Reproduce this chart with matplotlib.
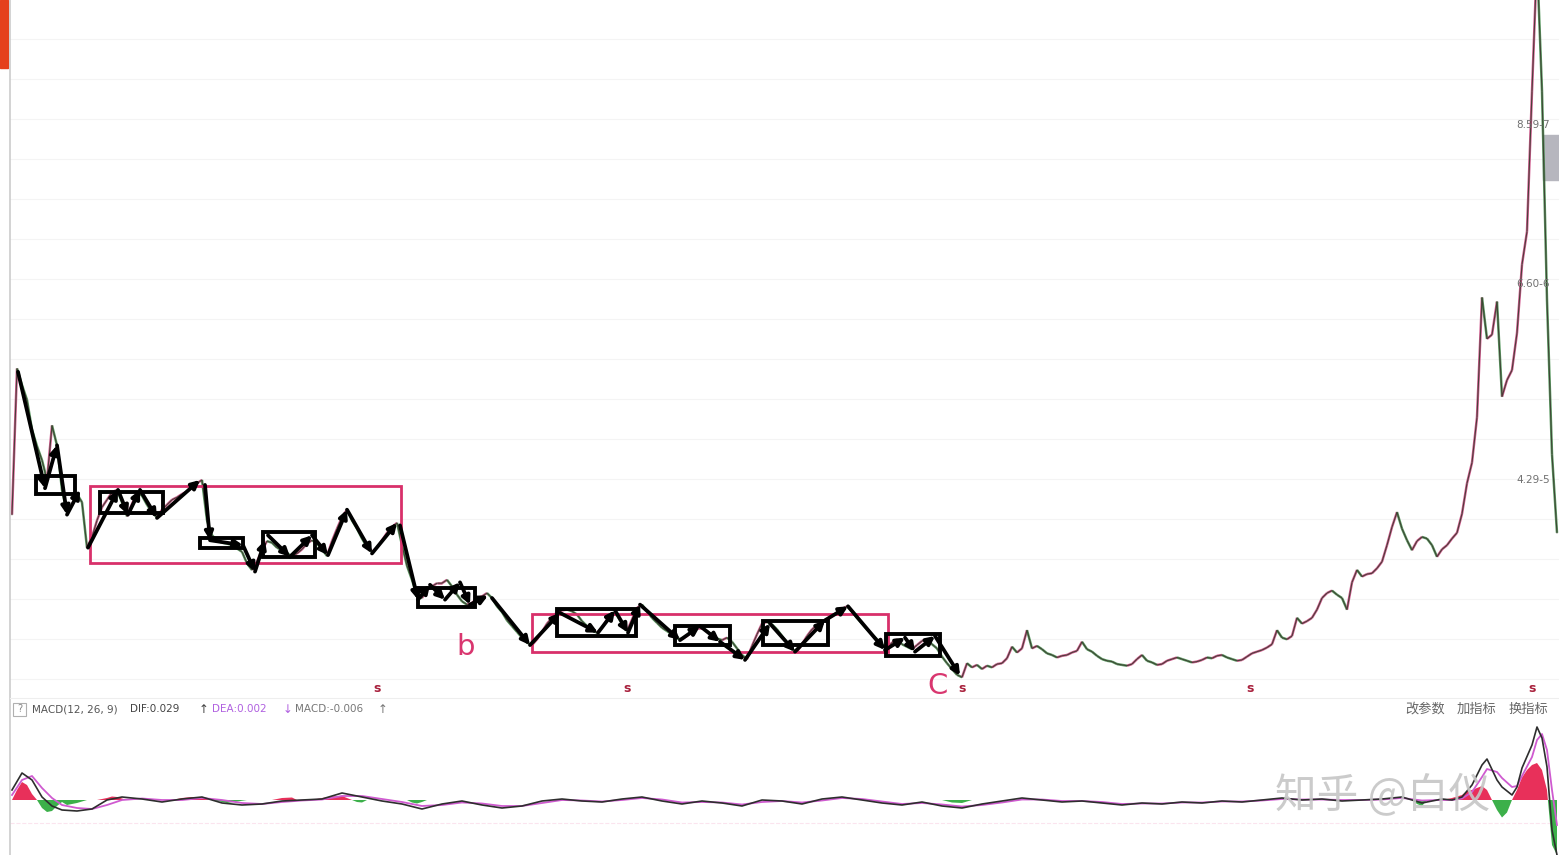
import numpy as np
import matplotlib
matplotlib.use('Agg')
import matplotlib.pyplot as plt
from matplotlib.patches import Rectangle
from matplotlib.collections import LineCollection

plt.rcParams['font.family'] = ['DejaVu Sans', 'Noto Sans CJK SC']

# daily close, one value per trading day
close = [3.87, 5.64, 5.44, 5.26, 4.90, 4.70, 4.53, 4.29, 4.95, 4.71,
         4.17, 3.90, 3.99, 4.12, 4.02, 3.47, 3.60, 3.80, 3.96, 4.05,
         4.14, 4.17, 4.02, 3.85, 4.00, 4.14, 4.10, 3.99, 3.90, 3.84,
         3.93, 3.99, 4.05, 4.08, 4.12, 4.15, 4.20, 4.25, 4.29, 3.80,
         3.62, 3.56, 3.53, 3.52, 3.50, 3.46, 3.42, 3.28, 3.20, 3.30,
         3.44, 3.55, 3.53, 3.47, 3.44, 3.40, 3.37, 3.40, 3.45, 3.52,
         3.56, 3.52, 3.45, 3.37, 3.55, 3.70, 3.84, 3.93, 3.80, 3.70,
         3.58, 3.48, 3.42, 3.47, 3.56, 3.65, 3.72, 3.77, 3.50, 3.25,
         3.08, 2.88, 2.86, 2.96, 3.00, 3.04, 3.04, 3.08, 3.00, 2.90,
         2.82, 2.78, 2.80, 2.86, 2.88, 2.92, 2.86, 2.76, 2.69, 2.59,
         2.52, 2.45, 2.38, 2.32, 2.29, 2.36, 2.45, 2.55, 2.62, 2.69,
         2.71, 2.72, 2.70, 2.66, 2.58, 2.52, 2.47, 2.44, 2.50, 2.60,
         2.68, 2.65, 2.55, 2.46, 2.60, 2.74, 2.78, 2.70, 2.62, 2.56,
         2.50, 2.46, 2.42, 2.37, 2.36, 2.40, 2.45, 2.50, 2.50, 2.46,
         2.41, 2.37, 2.35, 2.38, 2.33, 2.25, 2.17, 2.12, 2.28, 2.42,
         2.55, 2.57, 2.54, 2.48, 2.40, 2.32, 2.24, 2.21, 2.30, 2.40,
         2.48, 2.53, 2.57, 2.60, 2.64, 2.68, 2.72, 2.76, 2.70, 2.62,
         2.55, 2.48, 2.42, 2.36, 2.30, 2.25, 2.32, 2.36, 2.30, 2.27,
         2.24, 2.29, 2.34, 2.36, 2.30, 2.25, 2.15, 2.07, 2.00, 1.93,
         1.90, 2.07, 2.02, 2.05, 2.00, 2.04, 2.02, 2.06, 2.07, 2.13,
         2.27, 2.20, 2.25, 2.47, 2.25, 2.28, 2.24, 2.19, 2.17, 2.14,
         2.16, 2.17, 2.20, 2.22, 2.33, 2.24, 2.21, 2.16, 2.12, 2.10,
         2.09, 2.06, 2.05, 2.04, 2.06, 2.12, 2.17, 2.10, 2.08, 2.05,
         2.06, 2.10, 2.12, 2.14, 2.12, 2.10, 2.08, 2.09, 2.11, 2.14,
         2.13, 2.16, 2.17, 2.14, 2.12, 2.10, 2.11, 2.15, 2.19, 2.21,
         2.23, 2.26, 2.30, 2.47, 2.38, 2.36, 2.40, 2.62, 2.55, 2.58,
         2.62, 2.72, 2.86, 2.92, 2.95, 2.90, 2.86, 2.72, 3.05, 3.20,
         3.12, 3.15, 3.16, 3.22, 3.30, 3.50, 3.72, 3.90, 3.70, 3.56,
         3.44, 3.55, 3.60, 3.58, 3.50, 3.36, 3.45, 3.50, 3.58, 3.65,
         3.88, 4.25, 4.50, 5.05, 6.50, 6.00, 6.05, 6.45, 5.30, 5.50,
         5.62, 6.07, 6.90, 7.30, 9.00, 10.60, 9.00, 6.47, 4.60, 3.65]

# MACD lines
macd_days = [0, 2, 4, 6, 8, 10, 13, 16, 19, 22, 26, 30, 34, 38, 42, 46, 50, 54, 58, 62,
             66, 70, 74, 78, 82, 86, 90, 94, 98, 102, 106, 110, 114, 118, 122, 126, 130, 134, 138, 142,
             146, 150, 154, 158, 162, 166, 170, 174, 178, 182, 186, 190, 194, 198, 202, 206, 210, 214, 218, 222,
             226, 230, 234, 238, 242, 246, 250, 254, 258, 262, 266, 270, 274, 278, 282, 286, 288, 290, 292, 294,
             295, 297, 298, 300, 301, 302, 304, 305, 306, 307, 308, 309]
dif = [0.020, 0.054, 0.040, 0.006, -0.012, -0.020, -0.022, -0.018, 0.000, 0.006,
       0.002, -0.004, 0.002, 0.006, -0.006, -0.010, -0.008, -0.002, 0.000, 0.002,
       0.014, 0.006, -0.002, -0.008, -0.018, -0.008, -0.002, -0.010, -0.016, -0.012,
       -0.002, 0.002, -0.002, -0.004, 0.002, 0.006, -0.002, -0.008, -0.002, -0.006,
       -0.012, 0.000, -0.002, -0.008, 0.002, 0.006, 0.000, -0.006, -0.010, -0.004,
       -0.012, -0.016, -0.008, -0.002, 0.004, 0.000, -0.004, -0.002, -0.006, -0.010,
       -0.006, -0.008, -0.004, -0.006, -0.002, -0.004, 0.000, 0.004, 0.000, 0.002,
       -0.002, 0.000, 0.002, 0.006, -0.006, 0.002, 0.000, 0.006, 0.030, 0.070,
       0.082, 0.040, 0.026, 0.010, 0.026, 0.064, 0.110, 0.146, 0.124, 0.066,
       -0.060, -0.110]
dea = [0.010, 0.040, 0.048, 0.024, 0.004, -0.010, -0.016, -0.018, -0.010, 0.000,
       0.003, 0.000, 0.000, 0.004, 0.000, -0.006, -0.008, -0.004, -0.001, 0.001,
       0.008, 0.008, 0.002, -0.004, -0.012, -0.010, -0.005, -0.007, -0.012, -0.012,
       -0.006, 0.000, -0.001, -0.003, 0.000, 0.004, 0.001, -0.005, -0.004, -0.005,
       -0.009, -0.004, -0.002, -0.005, -0.001, 0.004, 0.002, -0.003, -0.008, -0.006,
       -0.009, -0.013, -0.010, -0.005, 0.001, 0.001, -0.002, -0.002, -0.004, -0.008,
       -0.007, -0.007, -0.005, -0.005, -0.003, -0.003, -0.001, 0.002, 0.001, 0.001,
       0.000, 0.000, 0.001, 0.004, -0.001, 0.000, 0.000, 0.003, 0.016, 0.046,
       0.062, 0.056, 0.044, 0.026, 0.028, 0.048, 0.086, 0.120, 0.132, 0.100,
       0.020, -0.050]

# MACD histogram (only the days where it leaves the zero line)
hist_days = [0, 1, 2, 3, 4, 5, 6, 7, 8, 9, 10, 11, 13, 15, 17, 19, 20, 21, 23,
             32, 34, 36, 38, 40, 42, 43, 45, 47, 52, 54, 56, 57, 60, 62, 64, 66, 67,
             68, 69, 70, 71, 79, 80, 81, 82, 83, 186, 188, 190, 192, 280, 281, 282, 283,
             286, 288, 290, 291, 292, 293, 294, 295, 296, 297, 298, 299, 300,
             301, 302, 303, 304, 305, 306, 307, 308, 309]
hist = [0, 0.020, 0.036, 0.030, 0.012, 0, -0.016, -0.024, -0.022, -0.012, -0.004, -0.010, -0.006, 0, 0,
        0.004, 0.007, 0.006, 0, 0, 0.004, 0.006, 0.004, 0, -0.004, -0.006, -0.003, 0,
        0, 0.004, 0.005, 0, 0, 0.004, 0.007, 0.008, 0.004, 0, -0.004, -0.005, 0,
        0, -0.005, -0.007, -0.004, 0, 0, -0.005, -0.006, 0, 0, -0.008, -0.012, 0,
        0, 0.004, 0.010, 0.018, 0.020, 0.024, 0.028, 0.020, 0, -0.020, -0.035, -0.025, 0,
        0.020, 0.045, 0.060, 0.070, 0.074, 0.060, 0.020, -0.090, -0.110]

# hand drawn boxes: (first day, last day, low, high)
small_boxes = [(4.8, 12.6, 4.12, 4.34), (17.6, 30.2, 3.89, 4.14), (37.6, 46.2, 3.47, 3.59),
               (50.2, 60.6, 3.36, 3.66), (81.2, 92.6, 2.75, 2.98), (109.0, 124.8, 2.40, 2.73),
               (132.6, 143.6, 2.29, 2.52), (150.2, 163.2, 2.29, 2.58), (174.8, 185.6, 2.16, 2.42)]
range_boxes = [(15.6, 77.8, 3.28, 4.22), (104.0, 175.2, 2.21, 2.67)]

# hand drawn zigzag strokes (day, price)
strokes = [
    [(1.2, 5.60), (6.6, 4.19), (9.0, 4.71), (11.0, 3.87), (13.6, 4.17)],
    [(15.2, 3.47), (21.2, 4.17), (23.2, 3.87), (25.6, 4.17), (29.0, 3.83), (37.6, 4.29)],
    [(38.6, 4.23), (39.6, 3.56), (46.2, 3.50), (48.6, 3.18), (50.6, 3.56)],
    [(51.2, 3.62), (55.6, 3.36), (60.0, 3.62), (63.2, 3.38), (67.0, 3.93), (72.0, 3.40), (77.0, 3.77)],
    [(77.6, 3.74), (81.2, 2.84), (83.6, 3.02), (86.6, 2.84), (89.6, 3.05), (91.6, 2.78), (95.2, 2.89)],
    [(96.0, 2.86), (103.6, 2.29), (109.6, 2.68), (117.2, 2.44), (120.6, 2.71), (123.2, 2.44),
     (125.6, 2.78), (133.6, 2.35), (137.6, 2.52), (141.6, 2.33), (146.6, 2.11), (151.6, 2.55),
     (156.6, 2.21), (162.6, 2.59), (167.2, 2.76), (174.6, 2.23), (178.6, 2.38), (180.6, 2.21),
     (184.6, 2.40), (189.6, 1.92)],
]

wave_labels = [('b', 90.8, 2.27), ('C', 185.2, 1.79)]
signal_days = [73, 123, 190, 247.6, 304]
price_labels = ['8.59-7', '6.60-6', '4.29-5']
price_label_at = [8.59, 6.66, 4.29]

W, H = 1559, 855
fig = plt.figure(figsize=(W / 100, H / 100), dpi=100)
fig.patch.set_facecolor('white')

ax = fig.add_axes([10 / W, 157 / H, 1549 / W, 698 / H])
ax.set_xlim(-0.4, 309.4)
ax.set_ylim(1.649, 10.104)
ax.axis('off')

for lv in np.arange(1.88, 10.1, 0.4845):
    ax.axhline(lv, color='#f4f4f4', lw=0.8, zorder=0)

# price line, tinted by direction like the candles
days = np.arange(len(close))
pts = np.column_stack([days, close])
segs = np.stack([pts[:-1], pts[1:]], axis=1)
cols = ['#c9407c' if b >= a else '#3f8a48' for a, b in zip(close[:-1], close[1:])]
ax.add_collection(LineCollection(segs, colors=cols, linewidths=1.8, alpha=0.85, zorder=2))
ax.plot(days, close, color='#3c3c30', lw=0.8, alpha=0.9, zorder=3)

for d0, d1, lo, hi in range_boxes:
    ax.add_patch(Rectangle((d0, lo), d1 - d0, hi - lo, fill=False, ec='#d8306a', lw=2, zorder=4))
for d0, d1, lo, hi in small_boxes:
    ax.add_patch(Rectangle((d0, lo), d1 - d0, hi - lo, fill=False, ec='black', lw=2.8, zorder=5))

for stroke in strokes:
    for p1, p2 in zip(stroke[:-1], stroke[1:]):
        ax.annotate('', xy=p2, xytext=p1, zorder=6,
                    arrowprops=dict(arrowstyle='-|>', color='black', lw=2.7,
                                    mutation_scale=12, shrinkA=0, shrinkB=0))

for txt, d, p in wave_labels:
    ax.text(d, p, txt, color='#d9366f', fontsize=21, ha='center', va='center')
for d in signal_days:
    ax.text(d, 1.77, 's', color='#a8203c', fontsize=9, fontweight='bold', ha='center', va='center')
for lab, p in zip(price_labels, price_label_at):
    ax.text(300.8, p, lab, color='#707070', fontsize=7.5, ha='left', va='center')
ax.add_patch(Rectangle((306.2, 7.92), 3.2, 0.55, color='#b6b6be', zorder=1))

# MACD panel
mx = fig.add_axes([10 / W, 0, 1549 / W, 157 / H])
mx.set_xlim(-0.4, 309.4)
mx.set_ylim(-0.110, 0.204)
mx.axis('off')
hd = np.array(hist_days)
hv = np.array(hist)
mx.fill_between(hd, hv, 0, where=hv >= 0, interpolate=True, color='#e8305a', lw=0)
mx.fill_between(hd, hv, 0, where=hv <= 0, interpolate=True, color='#3cb04a', lw=0)
mx.plot(macd_days, dea, color='#cf5ad0', lw=1.3)
mx.plot(macd_days, dif, color='#2e2e2e', lw=1.2)
mx.axhline(-0.046, color='#fbe4ee', lw=0.8, ls='--', zorder=0)

# panel header texts
ty = 1 - 709 / H
fig.patches.append(Rectangle((13 / W, 1 - 716 / H), 13 / W, 13 / H, transform=fig.transFigure,
                             fill=False, ec='#b0b0b0', lw=0.8))
fig.text(19.5 / W, ty, '?', fontsize=7, color='#888', ha='center', va='center')
fig.text(32 / W, ty, 'MACD(12, 26, 9)', fontsize=7.5, color='#555', va='center')
fig.text(130 / W, ty, 'DIF:0.029', fontsize=7.5, color='#444', va='center')
fig.text(199 / W, ty, '↑', fontsize=8.5, color='#444', va='center')
fig.text(212 / W, ty, 'DEA:0.002', fontsize=7.5, color='#b060e0', va='center')
fig.text(283 / W, ty, '↓', fontsize=8.5, color='#b060e0', va='center')
fig.text(295 / W, ty, 'MACD:-0.006', fontsize=7.5, color='#777', va='center')
fig.text(378 / W, ty, '↑', fontsize=8.5, color='#777', va='center')
for x0, s in [(1405, '改参数'), (1457, '加指标'), (1509, '换指标')]:
    fig.text(x0 / W, ty, s, fontsize=9.5, color='#666', va='center',
             family=['Noto Sans CJK SC', 'DejaVu Sans'])

fig.text(1275 / W, 1 - 795 / H, '知乎 @白仪', fontsize=30, color='#c6c6c6', va='center',
         alpha=0.9, family=['Noto Sans CJK SC', 'DejaVu Sans'])

# left frame bits
fig.patches.append(Rectangle((0, 1 - 68 / H), 8 / W, 68 / H, transform=fig.transFigure,
                             color='#e5401c'))
fig.lines.append(plt.Line2D([10 / W, 10 / W], [0, 1], transform=fig.transFigure,
                            color='#cccccc', lw=1.2))
fig.lines.append(plt.Line2D([10 / W, 1], [157 / H, 157 / H], transform=fig.transFigure,
                            color='#eeeeee', lw=0.8))

fig.savefig('out.png', dpi=100)
